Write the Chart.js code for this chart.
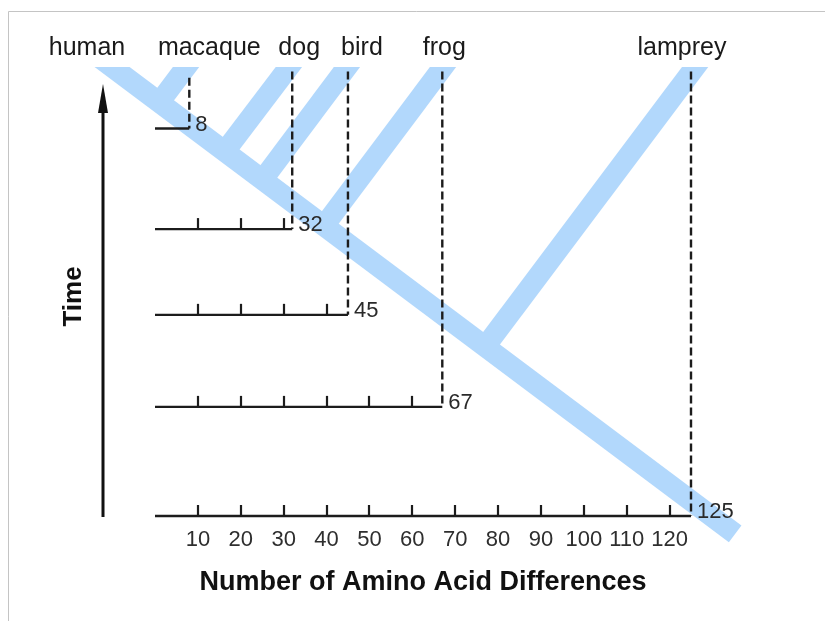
<!DOCTYPE html>
<html><head><meta charset="utf-8">
<script src="https://cdn.jsdelivr.net/npm/chart.js@4.4.1/dist/chart.umd.min.js"></script>
<style>html,body{margin:0;padding:0;background:#fff}</style>
</head><body>
<canvas id="c" width="825" height="621" style="display:block;width:825px;height:621px"></canvas>
<script>
// ---- data ----
const species = ['human', 'macaque', 'dog', 'bird', 'frog', 'lamprey'];
const differences = [0, 8, 32, 45, 67, 125];
const baselineTime = [null, 86.3, 63.9, 44.8, 24.3, 0];
const dashTopTime = [null, 97.6, 99, 99, 99, 99];
const xTickValues = [10, 20, 30, 40, 50, 60, 70, 80, 90, 100, 110, 120];
// tree branches: tip (past the top edge) and end point (junction on the trunk; trunk for human)
const branchTipX = [-15.6, 10.4, 34.4, 47.9, 70.3, 129.1];
const branchTipY = [104, 104, 104, 104, 104, 104];
const branchEndX = [135.3, 1.0, 16.4, 25.1, 39.4, 77.0];
const branchEndY = [-4.0, 92.1, 81.3, 74.9, 64.6, 37.7];

const FONT = "'Liberation Sans', Arial, sans-serif";
const TREE = 'rgb(178,216,252)';
const INK = '#1c1c1c';
const labelShift = [-25, 20, 7, 14, 2, -9];

const datasets = [];
species.forEach((s, i) => {
  datasets.push({
    label: s + ' branch',
    data: [{x: branchTipX[i], y: branchTipY[i]}, {x: branchEndX[i], y: branchEndY[i]}],
    borderColor: TREE, borderWidth: 21, borderCapStyle: 'butt', pointRadius: 0,
    showLine: true, tension: 0, order: 5,
    clip: {left: false, top: 0, right: false, bottom: false}
  });
});
species.forEach((s, i) => {
  if (baselineTime[i] === null) return;
  datasets.push({
    label: s + ' baseline',
    data: [{x: 0, y: baselineTime[i]}, {x: differences[i], y: baselineTime[i]}],
    borderColor: INK, borderWidth: 2.4, borderCapStyle: 'butt', pointRadius: 0,
    showLine: true, order: 1, clip: false
  });
  datasets.push({
    label: s + ' dashed',
    data: [{x: differences[i], y: dashTopTime[i]}, {x: differences[i], y: baselineTime[i]}],
    borderColor: INK, borderWidth: 2.4, borderDash: [8, 4], borderCapStyle: 'butt', pointRadius: 0,
    showLine: true, order: 1, clip: false
  });
});

const decor = {
  id: 'decor',
  beforeDraw(chart) {
    const ctx = chart.ctx;
    ctx.save();
    ctx.fillStyle = '#fff';
    ctx.fillRect(0, 0, chart.width, chart.height);
    ctx.strokeStyle = '#c4c4c4';
    ctx.lineWidth = 1;
    ctx.beginPath();
    ctx.moveTo(8.5, chart.height); ctx.lineTo(8.5, 11.5); ctx.lineTo(chart.width, 11.5);
    ctx.stroke();
    ctx.restore();
  },
  afterDatasetsDraw(chart) {
    const ctx = chart.ctx, xs = chart.scales.x, ys = chart.scales.y, a = chart.chartArea;
    ctx.save();
    // ticks on each baseline
    ctx.strokeStyle = INK; ctx.lineWidth = 2.2;
    species.forEach((s, i) => {
      if (baselineTime[i] === null) return;
      const yb = ys.getPixelForValue(baselineTime[i]);
      xTickValues.forEach(v => {
        if (v >= differences[i]) return;
        const px = Math.round(xs.getPixelForValue(v));
        ctx.beginPath(); ctx.moveTo(px, yb); ctx.lineTo(px, yb - 11); ctx.stroke();
      });
      // value label
      ctx.fillStyle = '#2a2a2a';
      ctx.font = '22px ' + FONT;
      ctx.textAlign = 'left'; ctx.textBaseline = 'middle';
      ctx.fillText(String(differences[i]), xs.getPixelForValue(differences[i]) + 6, yb - 4);
    });
    // species labels
    ctx.fillStyle = '#1a1a1a';
    ctx.font = '25px ' + FONT;
    ctx.textAlign = 'center'; ctx.textBaseline = 'alphabetic';
    species.forEach((s, i) => {
      const tx = i === 0 ? 0 : differences[i];
      ctx.fillText(s, xs.getPixelForValue(tx) + labelShift[i] + (i === 0 ? -43 : 0), a.top - 12);
    });
    // Time arrow
    const ax = a.left - 52;
    ctx.strokeStyle = '#111'; ctx.lineWidth = 3;
    ctx.beginPath(); ctx.moveTo(ax, a.bottom + 1); ctx.lineTo(ax, a.top + 40); ctx.stroke();
    ctx.fillStyle = '#111';
    ctx.beginPath(); ctx.moveTo(ax, a.top + 17); ctx.lineTo(ax + 5, a.top + 46); ctx.lineTo(ax - 5, a.top + 46); ctx.closePath(); ctx.fill();
    // Time title
    ctx.save();
    ctx.translate(a.left - 81, (a.top + a.bottom) / 2 + 5);
    ctx.rotate(-Math.PI / 2);
    ctx.font = 'bold 26px ' + FONT;
    ctx.textAlign = 'center'; ctx.textBaseline = 'middle';
    ctx.fillText('Time', 0, 0);
    ctx.restore();
    ctx.restore();
  }
};

new Chart(document.getElementById('c'), {
  type: 'scatter',
  data: {datasets},
  options: {
    responsive: false, animation: false, events: [], devicePixelRatio: 1,
    layout: {padding: {left: 155, right: 134, top: 67, bottom: 0}},
    plugins: {legend: {display: false}, tooltip: {enabled: false}},
    scales: {
      x: {
        type: 'linear', min: 0, max: 125, position: 'bottom',
        afterBuildTicks: s => { s.ticks = xTickValues.map(v => ({value: v})); },
        afterFit: s => { s.height = 105; },
        grid: {display: false, drawTicks: false},
        border: {display: false},
        ticks: {font: {family: FONT, size: 22}, color: '#2e2e2e', padding: 11, maxRotation: 0, autoSkip: false},
        title: {display: true, text: 'Number of Amino Acid Differences', color: '#111',
                font: {family: FONT, size: 27, weight: 'bold'}, padding: {top: 0, bottom: 22}}
      },
      y: {type: 'linear', min: 0, max: 100, display: false}
    }
  },
  plugins: [decor]
});
</script>
</body></html>
